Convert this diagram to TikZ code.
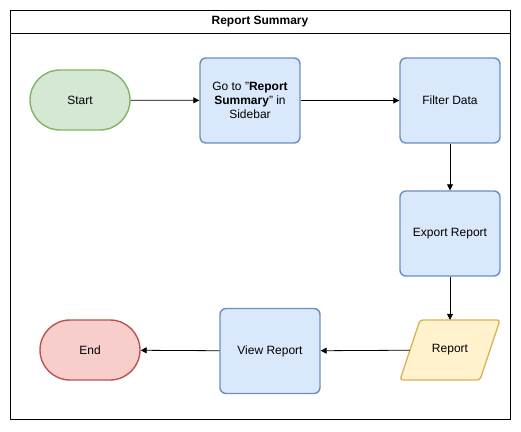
\documentclass[tikz,border=0pt]{standalone}
\usepackage{fontspec}
\setmainfont{Liberation Sans}
\usetikzlibrary{shapes.geometric,shapes.misc,arrows.meta}
\definecolor{startfill}{HTML}{D5E8D4}
\definecolor{startline}{HTML}{82B366}
\definecolor{stepfill}{HTML}{DAE8FC}
\definecolor{stepline}{HTML}{6C8EBF}
\definecolor{datafill}{HTML}{FFF2CC}
\definecolor{dataline}{HTML}{D6B656}
\definecolor{endfill}{HTML}{F8CECC}
\definecolor{endline}{HTML}{B85450}
\begin{document}
\begin{tikzpicture}[x=1pt,y=-1pt,
  every node/.style={font=\fontsize{12}{14}\selectfont},
  term/.style={rounded rectangle,line width=1.4pt,minimum width=100pt,minimum height=60pt,inner sep=0pt},
  stepbox/.style={draw=stepline,fill=stepfill,rounded corners=6pt,line width=1.4pt,minimum width=100pt,minimum height=85pt,inner sep=0pt,align=center},
  arr/.style={-{Triangle[length=6pt,width=6pt]},line width=0.8pt}]
\useasboundingbox (0,0) rectangle (521,431);
% frame
\draw[line width=1pt] (10,10) rectangle (510,419);
\draw[line width=1pt] (10,33) -- (510,33);
\node[font=\fontsize{12}{14}\selectfont\bfseries] (title) at (260,21.5) {Report Summary};
% shapes
\node[term,draw=startline,fill=startfill] (start) at (80,100) {Start};
\node[stepbox] (goto) at (250,100.5) {Go to "\textbf{Report}\\\textbf{Summary}" in\\Sidebar};
\node[stepbox] (filter) at (450,100.5) {Filter Data};
\node[stepbox] (export) at (450,233.5) {Export Report};
\draw[draw=dataline,fill=datafill,rounded corners=3pt,line width=1.4pt]
  (400,380) -- (420,320) -- (500,320) -- (480,380) -- cycle;
\node[minimum width=80pt,minimum height=60pt,inner sep=0pt] (report) at (450,350) {Report};
\node[stepbox] (view) at (270,351) {View Report};
\node[term,draw=endline,fill=endfill] (end) at (90,350) {End};
% arrows
\draw[arr] (start) -- (goto);
\draw[arr] (goto) -- (filter);
\draw[arr] (filter) -- (export);
\draw[arr] (export) -- (report);
\draw[arr] (report) -- (view);
\draw[arr] (view) -- (end);
\end{tikzpicture}
\end{document}
